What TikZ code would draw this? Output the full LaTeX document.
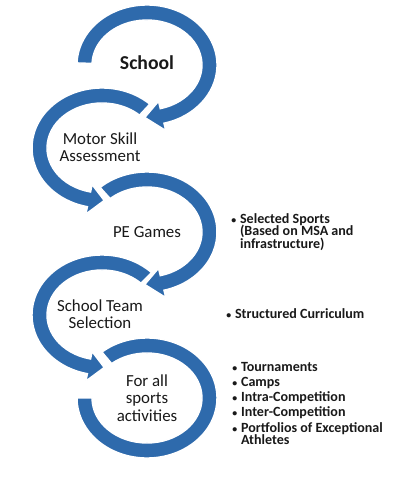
\documentclass[tikz,border=0pt]{standalone}
\usepackage{fontspec}
\setmainfont{Carlito}
\usetikzlibrary{calc}

\definecolor{ringblue}{RGB}{46,106,172}
\definecolor{inkgray}{RGB}{25,25,25}

\tikzset{
  ring/.style={fill=ringblue, draw=white, line width=1pt},
  steptext/.style={font=\fontsize{12}{12.5}\selectfont, text=inkgray, align=center, inner sep=0pt},
  notetext/.style={font=\fontsize{10}{10.8}\selectfont\bfseries, text=inkgray, align=left, anchor=north west, inner sep=0pt}
}

% bent arrow: centre, start angle, head base angle, tip angle
\newcommand{\bendarrow}[4]{%
  \fill[ring] ($(#1)+(#2:70 and 60)$) arc[start angle=#2, end angle=#3, x radius=70, y radius=60]
    -- ($(#1)+(#3:77.5 and 67.5)$) -- ($(#1)+(#4:62.5 and 52.5)$) -- ($(#1)+(#3:47.5 and 37.5)$)
    -- ($(#1)+(#3:55 and 45)$) arc[start angle=#3, end angle=#2, x radius=55, y radius=45] -- cycle;}
\newcommand{\itm}{\makebox[2.2mm][l]{\fontsize{7}{7}\selectfont\textbullet}}

\begin{document}
\begin{tikzpicture}[x=0.25mm, y=0.25mm]
    \useasboundingbox (0,0) rectangle (401,-479);

    % Ring centres
    \coordinate (c1) at (147,-65);
    \coordinate (c2) at (102,-148);
    \coordinate (c3) at (147,-232);
    \coordinate (c4) at (102,-315);
    \coordinate (c5) at (147,-398);

    % Bent arrows
    \bendarrow{c1}{178}{-76}{-92}
    \bendarrow{c2}{47}{258}{272}
    \bendarrow{c3}{132}{-76}{-92}
    \bendarrow{c4}{45}{258}{272}
    \fill[ring] ($(c5)+(130:70 and 60)$) arc[start angle=130, end angle=-180, x radius=70, y radius=60]
      -- ($(c5)+(-180:55 and 45)$) arc[start angle=-180, end angle=130, x radius=55, y radius=45] -- cycle;

    % Step labels
    \node[steptext, font=\fontsize{14}{15}\selectfont\bfseries] (school) at (147,-63) {School};
    \node[steptext] (motor) at (100,-147) {Motor Skill\\Assessment};
    \node[steptext] (pegames) at (147,-232) {PE Games};
    \node[steptext] (team) at (100,-314) {School Team\\Selection};
    \node[steptext] (allsports) at (147,-398) {For all\\sports\\activities};

    % Notes
    \node[notetext] (sportsnote) at (231,-213) {\itm Selected Sports\\[-1.8pt]\hspace*{2.2mm}(Based on MSA and\\[-1.8pt]\hspace*{2.2mm}infrastructure)};
    \node[notetext] (curricnote) at (226,-308) {\itm Structured Curriculum};
    \node[notetext] (activitynote) at (232,-362) {\itm Tournaments\\\itm Camps\\\itm Intra-Competition\\\itm Inter-Competition\\\itm Portfolios of Exceptional\\[-2pt]\hspace*{2.2mm}Athletes};

\end{tikzpicture}
\end{document}
